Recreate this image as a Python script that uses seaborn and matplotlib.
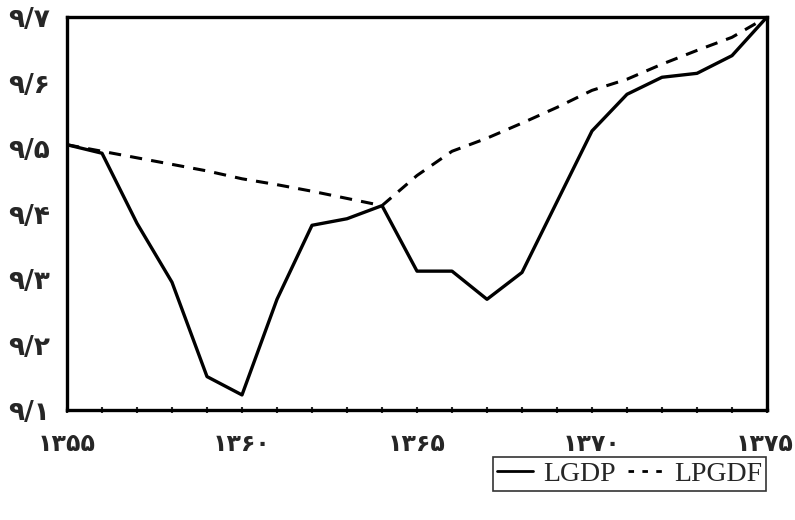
import matplotlib
matplotlib.use("Agg")
import matplotlib.pyplot as plt
import matplotlib.transforms as mtransforms
import seaborn as sns
import pandas as pd

years = list(range(1355, 1376))
lgdp = [9.505, 9.492, 9.385, 9.295, 9.151, 9.123, 9.269, 9.382, 9.392, 9.412,
        9.312, 9.312, 9.269, 9.310, 9.418, 9.526, 9.582, 9.608, 9.614, 9.641, 9.700]
lpgdf = [9.505, 9.495, 9.485, 9.475, 9.465, 9.453, 9.444, 9.434, 9.423, 9.412,
         9.458, 9.495, 9.515, 9.538, 9.562, 9.588, 9.605, 9.628, 9.649, 9.669, 9.700]
xticks = [1355, 1360, 1365, 1370, 1375]
xtick_labels = ['۱۳۵۵', '۱۳۶۰', '۱۳۶۵', '۱۳۷۰', '۱۳۷۵']
yticks = [9.1, 9.2, 9.3, 9.4, 9.5, 9.6, 9.7]
ytick_labels = ['۹/۱', '۹/۲', '۹/۳', '۹/۴', '۹/۵', '۹/۶', '۹/۷']

df = pd.DataFrame({'year': years, 'LGDP': lgdp, 'LPGDF': lpgdf})

sns.set_style("white")
plt.rcParams['font.family'] = ['DejaVu Sans']

fig = plt.figure(figsize=(7.95, 5.2), dpi=100)
ax = fig.add_axes([67 / 795, 1 - 410 / 520, 700 / 795, 393 / 520])

sns.lineplot(data=df, x='year', y='LGDP', ax=ax, color='black', linewidth=2.4, label='LGDP')
sns.lineplot(data=df, x='year', y='LPGDF', ax=ax, color='black', linewidth=2.2,
             linestyle=(0, (4, 3)), label='LPGDF')

ax.set_xlim(1355, 1375)
ax.set_ylim(9.1, 9.7)
ax.set_xticks(xticks)
ax.set_xticklabels(xtick_labels, fontsize=17, fontweight='bold')
ax.set_xticks(years, minor=True)
ax.set_yticks(yticks)
ax.set_yticklabels(ytick_labels, fontsize=19, fontweight='bold')
ax.tick_params(axis='x', which='both', direction='inout', length=5, width=1.5, pad=13, bottom=True)
ax.tick_params(axis='y', length=0, pad=12)
ax.set_xlabel('')
ax.set_ylabel('')
for s in ax.spines.values():
    s.set_color('black')
    s.set_linewidth(2.4)

# keep the right-most year label inside the picture
last = ax.get_xticklabels()[-1]
last.set_horizontalalignment('right')
last.set_transform(last.get_transform() + mtransforms.ScaledTranslation(27 / 100, 0, fig.dpi_scale_trans))

ax.get_legend().remove()
handles, labels = ax.get_legend_handles_labels()
leg = fig.legend(handles, labels, loc='lower right', bbox_to_anchor=(766 / 795, 1 - 491 / 520),
                 ncol=2, frameon=True, fancybox=False, edgecolor='black',
                 prop={'family': 'Liberation Serif', 'size': 20},
                 handlelength=1.3, handletextpad=0.35, columnspacing=0.45,
                 borderpad=0.15, borderaxespad=0)
leg.get_frame().set_linewidth(1.2)
leg_lines = leg.get_lines()
leg_lines[0].set_linewidth(2.0)
leg_lines[1].set_linewidth(2.0)
leg_lines[1].set_dashes((2, 3))

fig.savefig('out.png', dpi=100, facecolor='white')
